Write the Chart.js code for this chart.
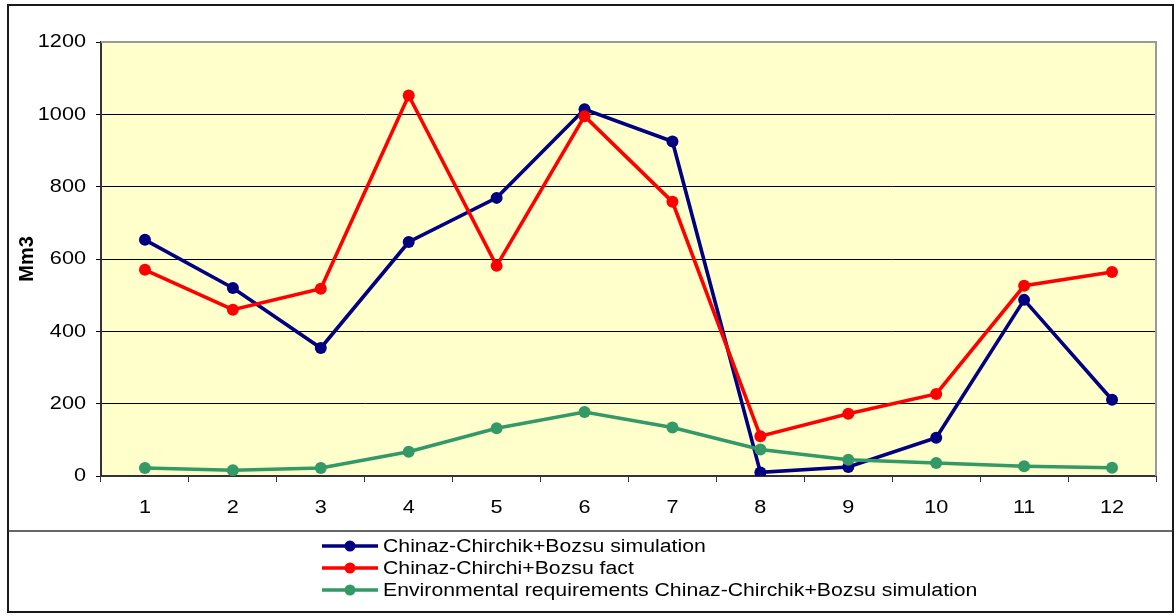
<!DOCTYPE html>
<html>
<head>
<meta charset="utf-8">
<script src="https://cdn.jsdelivr.net/npm/chart.js@4.4.1/dist/chart.umd.min.js"></script>
<style>
  html, body { margin: 0; padding: 0; background: #ffffff; }
  canvas { display: block; }
</style>
</head>
<body>
<canvas id="chart" width="1176" height="616"></canvas>
<script>
// Months 1..12
const months = ['1', '2', '3', '4', '5', '6', '7', '8', '9', '10', '11', '12'];

// Monthly volumes, Mm3
const simulation    = [653, 520, 354, 647, 769, 1014, 925, 10, 25, 106, 487, 211];
const fact          = [570, 460, 518, 1052, 581, 995, 758, 110, 172, 227, 526, 564];
const environmental = [22, 16, 22, 67, 132, 177, 134, 73, 45, 36, 27, 23];

const seriesNames = [
  'Chinaz-Chirchik+Bozsu simulation',
  'Chinaz-Chirchi+Bozsu fact',
  'Environmental requirements Chinaz-Chirchik+Bozsu simulation'
];
const seriesColors = ['#000080', '#ff0000', '#339966'];

const yMin = 0, yMax = 1200, yStep = 200;
const FONT = "'Liberation Sans', Arial, sans-serif";

// Text drawn slightly widened horizontally
function wideText(ctx, text, x, y, align, size, stretch) {
  ctx.save();
  ctx.translate(x, y);
  ctx.scale(stretch, 1);
  ctx.font = size + 'px ' + FONT;
  ctx.fillStyle = '#000000';
  ctx.textAlign = align;
  ctx.textBaseline = 'middle';
  ctx.fillText(text, 0, 0);
  ctx.restore();
}

// Plot background, plot frame, outer frame, axis labels and the boxed legend
const framePlugin = {
  id: 'frame',
  beforeDraw(chart) {
    const { ctx, chartArea: a } = chart;
    ctx.save();
    ctx.fillStyle = '#ffffcc';
    ctx.fillRect(a.left, a.top, a.right - a.left, a.bottom - a.top);
    ctx.restore();
  },
  beforeDatasetsDraw(chart) {
    const { ctx, chartArea: a } = chart;
    ctx.save();
    ctx.strokeStyle = '#9a9a9a';
    ctx.lineWidth = 2;
    ctx.beginPath();
    ctx.moveTo(a.left, a.top);
    ctx.lineTo(a.right, a.top);
    ctx.lineTo(a.right, a.bottom);
    ctx.stroke();
    ctx.restore();
  },
  afterDraw(chart) {
    const { ctx, chartArea: a } = chart;
    const xs = chart.scales.x, ys = chart.scales.y;

    // category labels
    xs.ticks.forEach((t, i) => {
      wideText(ctx, String(t.label), xs.getPixelForTick(i), a.bottom + 32, 'center', 19, 1.14);
    });
    // value labels
    ys.ticks.forEach((t) => {
      wideText(ctx, String(t.value), a.left - 15, ys.getPixelForValue(t.value), 'right', 19, 1.14);
    });

    ctx.save();
    // outer frame
    ctx.strokeStyle = '#1a1a1a';
    ctx.lineWidth = 2;
    ctx.strokeRect(8, 5, 1165, 607);
    // legend box separator
    ctx.strokeStyle = '#333333';
    ctx.lineWidth = 1.5;
    ctx.beginPath();
    ctx.moveTo(8, 531);
    ctx.lineTo(1173, 531);
    ctx.stroke();

    // legend entries
    const x0 = 322, x1 = 378, textX = 383;
    const rows = [546, 568, 590];
    chart.data.datasets.forEach((ds, i) => {
      const y = rows[i];
      ctx.strokeStyle = ds.borderColor;
      ctx.lineWidth = 3.5;
      ctx.beginPath();
      ctx.moveTo(x0, y);
      ctx.lineTo(x1, y);
      ctx.stroke();
      ctx.fillStyle = ds.borderColor;
      ctx.beginPath();
      ctx.arc((x0 + x1) / 2, y, 5.5, 0, Math.PI * 2);
      ctx.fill();
      wideText(ctx, ds.label, textX, y + 1, 'left', 18, 1.18);
    });
    ctx.restore();
  }
};

const series = [simulation, fact, environmental];

new Chart(document.getElementById('chart'), {
  type: 'line',
  data: {
    labels: months,
    datasets: series.map((values, i) => ({
      label: seriesNames[i],
      data: values,
      borderColor: seriesColors[i],
      backgroundColor: seriesColors[i],
      borderWidth: 3.6,
      pointRadius: 6,
      pointBorderWidth: 0,
      pointBackgroundColor: seriesColors[i],
      tension: 0,
      fill: false,
      order: 2 - i
    }))
  },
  options: {
    responsive: false,
    animation: false,
    events: [],
    layout: { padding: { left: 8, top: 42, right: 20, bottom: 100 } },
    plugins: {
      legend: { display: false },
      tooltip: { enabled: false },
      title: { display: false }
    },
    scales: {
      x: {
        offset: true,
        grid: {
          offset: true,
          drawOnChartArea: false,
          drawTicks: true,
          tickLength: 6,
          color: '#333333',
          lineWidth: 1
        },
        border: { display: true, color: '#333333', width: 2 },
        ticks: { display: false, maxRotation: 0 },
        afterFit(scale) { scale.height = 40; }
      },
      y: {
        min: yMin,
        max: yMax,
        grid: {
          color: '#000000',
          lineWidth: 1,
          tickLength: 5,
          drawTicks: true
        },
        border: { display: true, color: '#333333', width: 2 },
        ticks: { display: false, stepSize: yStep },
        title: {
          display: true,
          text: 'Mm3',
          color: '#000000',
          font: { family: FONT, size: 20, weight: 'bold' },
          padding: { top: 7, bottom: 0 }
        },
        afterFit(scale) { scale.width = 93; }
      }
    }
  },
  plugins: [framePlugin]
});
</script>
</body>
</html>
